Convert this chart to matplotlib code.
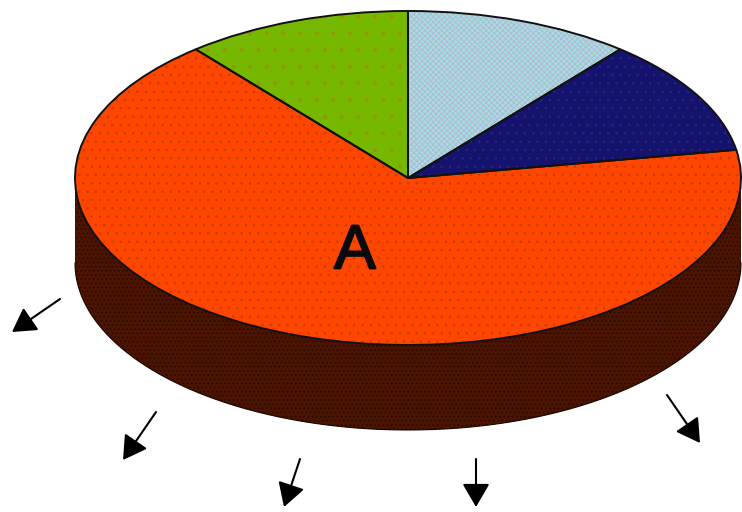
import numpy as np
import matplotlib.pyplot as plt
from matplotlib import rcParams
import matplotlib.patheffects as pe

rcParams["font.family"] = ["Liberation Sans", "DejaVu Sans"]
rcParams["hatch.linewidth"] = 0.6

# Slice sizes, clockwise from twelve o'clock
sizes = [11.0, 11.3, 66.7, 11.0]
colors = ["#a3e0da", "#14146e", "#ff4600", "#76b800"]
dots = ["#b6b2dc", "#2e2278", "#c84000", "#8f9a08"]
hatches = ["xxxxxx", "..", "..", "."]

# Arrows in image pixels: tail x, tail y, tip x, tip y
tail_x = [60, 156, 300, 476, 667]
tail_y = [299, 412, 459, 459, 395]
tip_x = [12, 123, 284, 476, 700]
tip_y = [332, 460, 507, 507, 443]

W, H = 742, 512
cx, cy = 408, 178
rx, ry = 333, 167
depth = 85

def to_data(px, py):
    return (px - cx)/rx, (cy - py)/ry

fig = plt.figure(figsize=(W/100, H/100), dpi=100)
ax = fig.add_axes([0, 0, 1, 1])

# Rim of the disc, front half only
t = np.linspace(np.pi, 2*np.pi, 300)
xs = np.cos(t)
ys = np.sin(t)
d = depth/ry
ax.fill_between(xs, ys, ys - d, facecolor="#4a1400", edgecolor="#260900",
                hatch="....", lw=0, zorder=1)
ax.plot(xs, ys - d, c="#1a0500", lw=0.8, zorder=2)

# Top face: fill with stipple first, then the outlines
wedges, _ = ax.pie(sizes, colors=colors, startangle=90, counterclock=False,
                   wedgeprops={"lw": 0})
for w, dc, h in zip(wedges, dots, hatches):
    w.set_edgecolor(dc)
    w.set_hatch(h)
    w.set_linewidth(0)
    w.set_zorder(3)
lines, _ = ax.pie(sizes, startangle=90, counterclock=False,
                  wedgeprops={"fill": False, "edgecolor": "#111111", "lw": 1.4})
for w in lines:
    w.set_zorder(4)

ax.text(*to_data(355, 252), "A", fontsize=45, color="#0a0a0a",
        ha="center", va="center", zorder=5,
        path_effects=[pe.withStroke(linewidth=1.3, foreground="#0a0a0a")])

for x0, y0, x1, y1 in zip(tail_x, tail_y, tip_x, tip_y):
    ax.annotate("", xy=to_data(x1, y1), xytext=to_data(x0, y0),
                arrowprops=dict(arrowstyle="-|>,head_length=0.72,head_width=0.42",
                                mutation_scale=20, lw=1.5, color="black",
                                shrinkA=0, shrinkB=0), zorder=5)

ax.set_aspect("auto")
ax.set_xlim(-cx/rx, (W - cx)/rx)
ax.set_ylim((cy - H)/ry, cy/ry)
ax.axis("off")

plt.savefig("out.png", dpi=100)
